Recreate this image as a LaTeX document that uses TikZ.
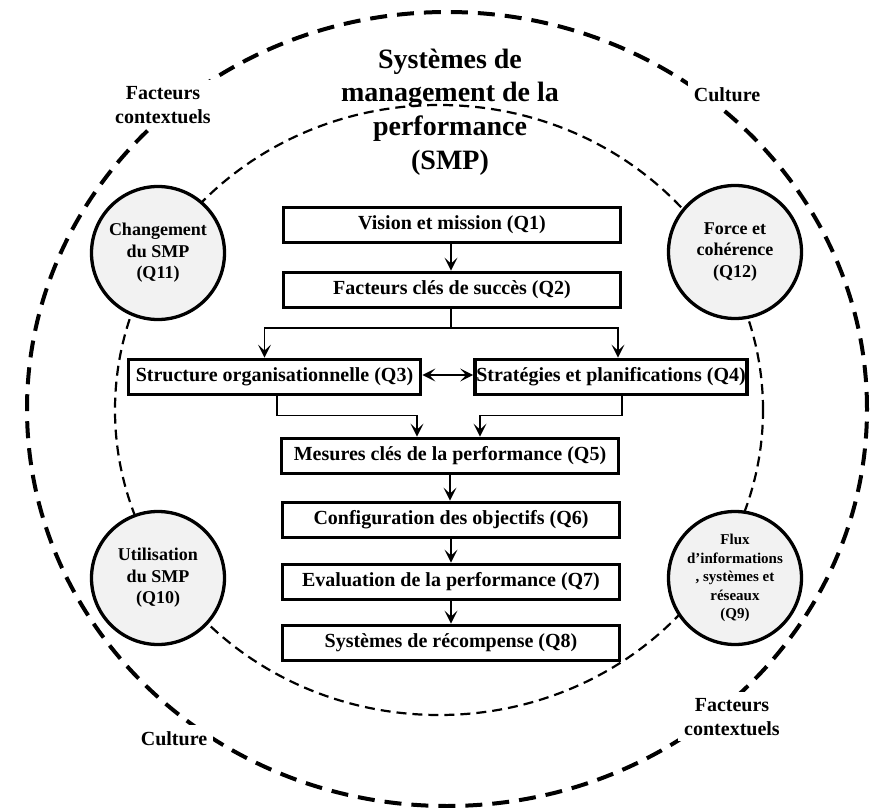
\documentclass[tikz,border=0pt]{standalone}
\usepackage{fontspec}
\setmainfont{Liberation Serif}
\usetikzlibrary{arrows.meta,calc}
\definecolor{circfill}{RGB}{242,242,242}
\begin{document}
\begin{tikzpicture}[x=1pt,y=-1pt,
  stepbox/.style={draw, line width=3.8pt, fill=white, minimum height=35pt, inner sep=0pt,
    font=\fontsize{20}{24}\selectfont\bfseries},
  topic/.style={draw, line width=3.3pt, fill=circfill, circle, minimum size=133pt, inner sep=0pt,
    align=center, font=\fontsize{18}{21.5}\selectfont\bfseries},
  lab/.style={fill=white, align=center, inner sep=6pt, font=\fontsize{20}{24}\selectfont\bfseries},
  conn/.style={line width=1.3pt},
  arr/.style={conn, -{Stealth[length=13pt,width=13pt,inset=6pt]}},
  outerring/.style={line width=4pt, dash pattern=on 17pt off 10pt},
  innerring/.style={line width=2.2pt, dash pattern=on 10pt off 6pt},
]
\fill[white] (0,0) rectangle (876,808);
\useasboundingbox (0,0) rectangle (876,808);

% rings
\draw[outerring] (447,409) ellipse [x radius=420pt, y radius=397pt];
\draw[innerring] (439,410) ellipse [x radius=324pt, y radius=305pt];

% outer labels (anchor base = baseline of last line)
\node[lab, anchor=base] (fc1) at (163,123) {Facteurs\\contextuels};
\node[lab, anchor=base] (cu1) at (727,101) {Culture};
\node[lab, anchor=base] (cu2) at (174,745) {Culture};
\node[lab, anchor=base] (fc2) at (732,735) {Facteurs\\contextuels};

% title
\node[anchor=base, align=center, inner sep=0pt, font=\fontsize{28}{33.6}\selectfont\bfseries] (title) at (450,169)
  {Systèmes de\\management de la\\performance\\(SMP)};

% circles
\node[topic] (q11) at (158,253) {Changement\\du SMP\\(Q11)};
\node[topic] (q12) at (735,252) {Force et\\cohérence\\(Q12)};
\node[topic] (q10) at (158,578) {Utilisation\\du SMP\\(Q10)};
\node[topic, font=\fontsize{15}{18.5}\selectfont\bfseries] (q9) at (735,578)
  {Flux\\d’informations\\, systèmes et\\réseaux\\(Q9)};

% boxes
\node[stepbox, minimum width=337pt] (q1) at (452,225) {Vision et mission (Q1)};
\node[stepbox, minimum width=337pt] (q2) at (452,290) {Facteurs clés de succès (Q2)};
\node[stepbox, minimum width=292pt] (q3) at (274.5,377) {Structure organisationnelle (Q3)};
\node[stepbox, minimum width=272pt] (q4) at (611,377) {Stratégies et planifications (Q4)};
\node[stepbox, minimum width=337pt] (q5) at (450,456) {Mesures clés de la performance (Q5)};
\node[stepbox, minimum width=337pt] (q6) at (451,520) {Configuration des objectifs (Q6)};
\node[stepbox, minimum width=337pt] (q7) at (451,582) {Evaluation de la performance (Q7)};
\node[stepbox, minimum width=337pt] (q8) at (451,643) {Systèmes de récompense (Q8)};

% connectors
\draw[arr] (q1.south -| 451,0) -- (q2.north -| 451,0);
\coordinate (sp) at (451,328);
\draw[conn] (q2.south -| sp) -- (sp);
\draw[arr] (sp) -| ([xshift=-10pt]q3.north);
\draw[arr] (sp) -| (q4.north -| 618,0);
\draw[conn, {Stealth[length=13pt,width=13pt,inset=6pt]}-{Stealth[length=13pt,width=13pt,inset=6pt]}]
  (q3.east |- 0,375) -- (q4.west |- 0,375);
\draw[arr] ([xshift=2.5pt]q3.south) |- ([xshift=-33pt,yshift=21pt]q5.north) -- ([xshift=-33pt]q5.north);
\draw[arr] (q4.south -| 622,0) |- ([xshift=30pt,yshift=21pt]q5.north) -- ([xshift=30pt]q5.north);
\draw[arr] (q5.south -| 450,0) -- (q6.north -| 450,0);
\draw[arr] (q6.south -| 451,0) -- (q7.north -| 451,0);
\draw[arr] (q7.south -| 451,0) -- (q8.north -| 451,0);
\end{tikzpicture}
\end{document}
